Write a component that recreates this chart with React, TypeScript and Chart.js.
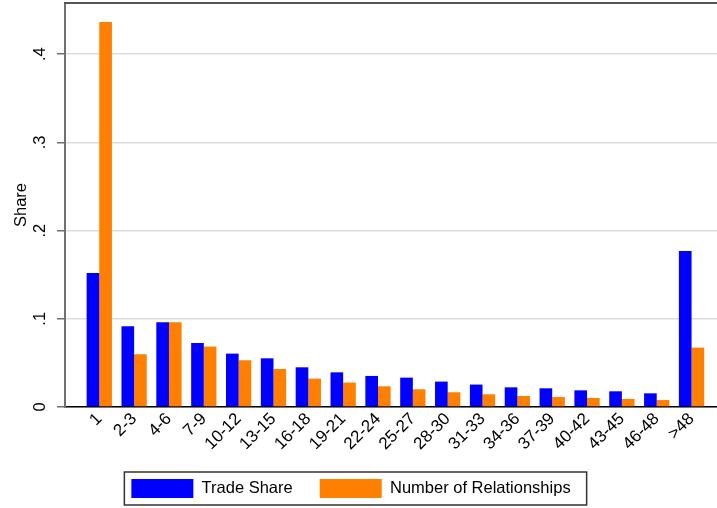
import React, { useEffect, useRef } from 'react';
import { Chart, registerables } from 'chart.js';

Chart.register(...registerables);

const categories = ['1', '2-3', '4-6', '7-9', '10-12', '13-15', '16-18', '19-21', '22-24', '25-27', '28-30', '31-33', '34-36', '37-39', '40-42', '43-45', '46-48', '>48'];
const tradeShare = [0.152, 0.0915, 0.096, 0.0726, 0.0605, 0.0552, 0.045, 0.0393, 0.0352, 0.0333, 0.0288, 0.0254, 0.0223, 0.0212, 0.0189, 0.0178, 0.0155, 0.1769];
const numRelationships = [0.4365, 0.0598, 0.096, 0.0685, 0.053, 0.0431, 0.0322, 0.0277, 0.0235, 0.0201, 0.0167, 0.0144, 0.0125, 0.0113, 0.0102, 0.0091, 0.0079, 0.0673];
const yTickValues = [0, 0.1, 0.2, 0.3, 0.4];
const yTickLabels = ['0', '.1', '.2', '.3', '.4'];
const seriesNames = ['Trade Share', 'Number of Relationships'];
const seriesColors = ['#0000ff', '#ff8000'];

const FONT = "'Liberation Sans', Arial, sans-serif";

const framePlugin = {
  id: 'stataFrame',
  afterLayout(chart: any) {
    if (chart.legend) {
      chart.legend.right -= 15;
    }
  },
  afterDraw(chart: any) {
    const { ctx, chartArea } = chart;
    ctx.save();
    ctx.strokeStyle = '#555555';
    ctx.lineWidth = 2;
    ctx.beginPath();
    ctx.moveTo(chartArea.left - 1, chartArea.top);
    ctx.lineTo(chart.width, chartArea.top);
    ctx.stroke();
    const boxes = chart.legend && chart.legend.legendHitBoxes;
    if (boxes && boxes.length) {
      const l = Math.min(...boxes.map((b: any) => b.left));
      const r = Math.max(...boxes.map((b: any) => b.left + b.width));
      const t = Math.min(...boxes.map((b: any) => b.top));
      const btm = Math.max(...boxes.map((b: any) => b.top + b.height));
      ctx.strokeStyle = '#333333';
      ctx.lineWidth = 1.5;
      ctx.strokeRect(l - 7, t - 7, r - l + 23, btm - t + 14);
    }
    ctx.restore();
  },
};

export default function App() {
  const canvasRef = useRef<HTMLCanvasElement | null>(null);

  useEffect(() => {
    document.body.style.margin = '0';
    const canvas = canvasRef.current;
    if (!canvas) return;
    const chart = new Chart(canvas, {
      type: 'bar',
      data: {
        datasets: [
          {
            label: seriesNames[0],
            data: categories.map((_, i) => ({ x: i, y: tradeShare[i] })),
            backgroundColor: seriesColors[0],
            borderWidth: 0,
          },
          {
            label: seriesNames[1],
            data: categories.map((_, i) => ({ x: i, y: numRelationships[i] })),
            backgroundColor: seriesColors[1],
            borderWidth: 0,
          },
        ],
      },
      options: {
        responsive: false,
        animation: false,
        devicePixelRatio: 1,
        layout: { padding: { top: 3, left: 0, right: 0, bottom: 0 } },
        datasets: {
          bar: { categoryPercentage: 0.726, barPercentage: 1 },
        },
        scales: {
          x: {
            type: 'linear',
            min: -0.984,
            max: 17.73,
            offset: false,
            grid: { display: false, drawTicks: false },
            border: { display: true, color: '#000000', width: 1.5 },
            afterBuildTicks: (axis: any) => {
              axis.ticks = categories.map((_, i) => ({ value: i }));
            },
            afterFit: (axis: any) => {
              axis.height = 45;
              axis.paddingLeft = 0;
              axis.paddingRight = 0;
            },
            ticks: {
              autoSkip: false,
              minRotation: 45,
              maxRotation: 45,
              padding: 2,
              color: '#000000',
              font: { family: FONT, size: 17 },
              callback: (value: any) => categories[value] ?? '',
            },
          },
          y: {
            type: 'linear',
            min: 0,
            max: 0.458,
            grid: {
              color: '#dcdcdc',
              lineWidth: 1.5,
              drawTicks: true,
              tickLength: 8,
              tickColor: '#707070',
              tickWidth: 1.5,
            },
            border: { display: true, color: '#707070', width: 2 },
            afterBuildTicks: (axis: any) => {
              axis.ticks = yTickValues.map((v) => ({ value: v }));
            },
            afterFit: (axis: any) => {
              axis.width = 65;
              axis.paddingTop = 0;
              axis.paddingBottom = 0;
            },
            title: {
              display: true,
              text: 'Share',
              color: '#000000',
              font: { family: FONT, size: 16.5 },
              padding: { top: 12, bottom: 0 },
            },
            ticks: {
              minRotation: 90,
              maxRotation: 90,
              crossAlign: 'center',
              padding: 10,
              color: '#000000',
              font: { family: FONT, size: 16.5 },
              callback: (_v: any, i: number) => yTickLabels[i],
            },
          },
        },
        plugins: {
          legend: {
            position: 'bottom',
            labels: {
              boxWidth: 62,
              boxHeight: 19,
              padding: 27,
              color: '#000000',
              font: { family: FONT, size: 16.5 },
            },
          },
          tooltip: { enabled: false },
        },
      },
      plugins: [framePlugin],
    } as any);
    return () => chart.destroy();
  }, []);

  return (
    <div style={{ width: 717, height: 508 }}>
      <canvas ref={canvasRef} width={717} height={508} />
    </div>
  );
}
